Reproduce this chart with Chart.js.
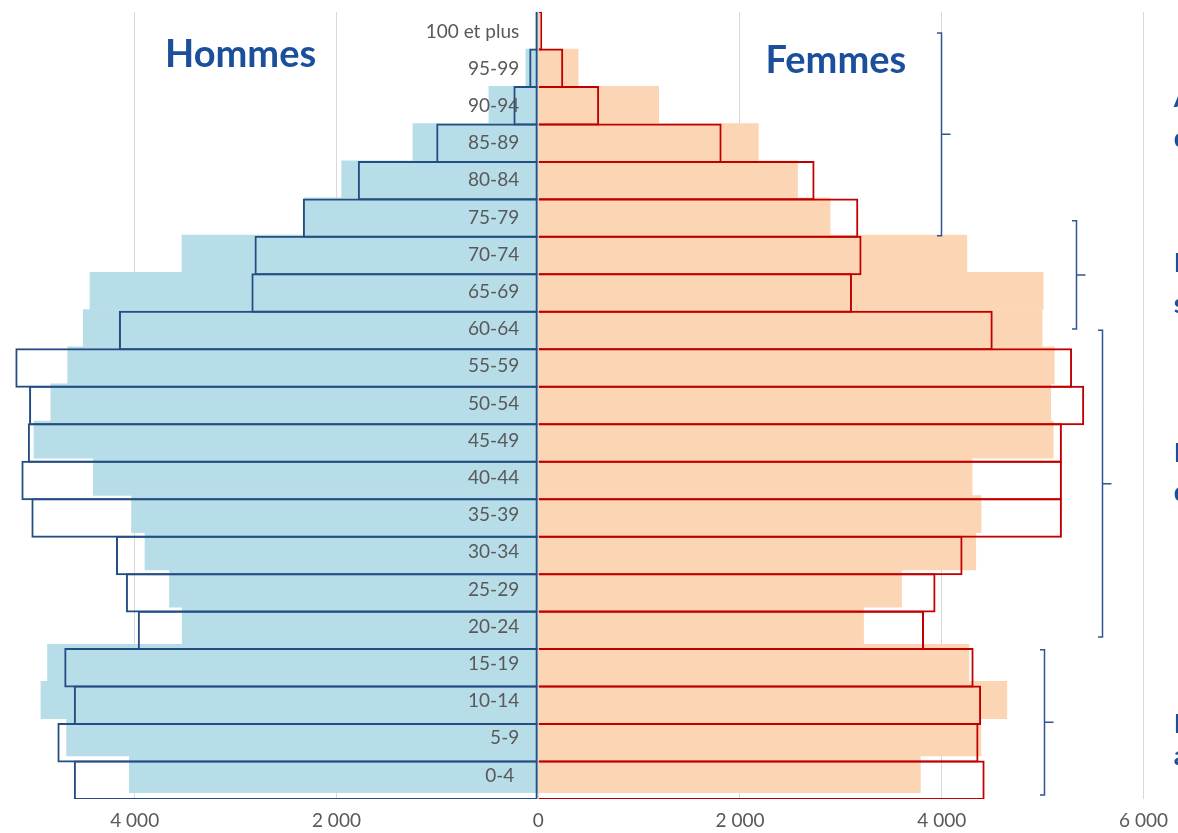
<!DOCTYPE html>
<html lang="fr">
<head>
<meta charset="utf-8">
<title>Pyramide des âges</title>
<script src="https://cdn.jsdelivr.net/npm/chart.js@4.4.1/dist/chart.umd.min.js"></script>
<style>
  html, body { margin: 0; padding: 0; background: #ffffff; overflow: hidden; }
  #wrap { width: 1178px; height: 833px; position: relative; }
  canvas { display: block; }
</style>
</head>
<body>
<div id="wrap"><canvas id="c" width="1178" height="833"></canvas></div>
<script>
// Age groups, bottom to top
const ages = ['0-4 ', '5-9', '10-14', '15-19', '20-24', '25-29', '30-34', '35-39', '40-44', '45-49',
              '50-54', '55-59', '60-64', '65-69', '70-74', '75-79', '80-84', '85-89', '90-94', '95-99', '100 et plus'];

// Filled bars (light colours)
const hommesFill = [4053, 4675, 4929, 4864, 3529, 3655, 3898, 4031, 4409, 4998,
                    4831, 4664, 4510, 4443, 3531, 2320, 1948, 1242, 489, 122, 15];
const femmesFill = [3788, 4388, 4645, 4269, 3225, 3601, 4337, 4390, 4301, 5105,
                    5080, 5115, 4995, 5005, 4249, 2893, 2570, 2181, 1194, 396, 25];

// Outlined bars
const hommesOutline = [4603, 4766, 4603, 4698, 3969, 4087, 4185, 5024, 5123, 5059,
                       5047, 5183, 4156, 2843, 2812, 2333, 1788, 1011, 246, 89, 28];
const femmesOutline = [4425, 4364, 4390, 4316, 3824, 3938, 4206, 5191, 5191, 5191,
                       5412, 5292, 4505, 3110, 3205, 3173, 2739, 1818, 604, 248, 40];

// X axis ticks shown
const xTicks = [-4000, -2000, 0, 2000, 4000, 6000];

// Side titles
const titles = [
  { text: 'Hommes', x: -2950, y: 19.03 },
  { text: 'Femmes', x: 2950, y: 18.87 }
];

// Brackets and their (cut-off) captions on the right
const brackets = [
  { x: 3991, top: 19.94, bottom: 14.53, lines: ['Aînés', "d'avant-guerre"], textY: [17.97, 16.90] },
  { x: 5326, top: 14.93, bottom: 12.04, lines: ['Baby-boomers', 'seniors'], textY: [13.56, 12.47] },
  { x: 5584, top: 12.01, bottom: 3.82, lines: ['Les actifs', "d'âge mûr"], textY: [8.49, 7.45] },
  { x: 5015, top: 3.48, bottom: -0.39, lines: ['Enfants et', 'adolescents'], textY: [1.26, 0.41] }
];
const captionX = 6300;

const BLUE_TXT = '#1B4F9C';
const GREY = '#595959';

const shiftPlugin = {
  id: 'shiftFilledAxis',
  afterLayout(chart) {
    const s = chart.scales.y2;
    s.top = chart.chartArea.top;
    s.bottom = chart.chartArea.bottom - 6;
    s.height = s.bottom - s.top;
    s.configure();
  }
};

const labelsPlugin = {
  id: 'ageLabels',
  afterDatasetsDraw(chart) {
    const ctx = chart.ctx;
    const xs = chart.scales.x, ys = chart.scales.y, y2 = chart.scales.y2;
    ctx.save();
    // age labels
    ctx.font = '19px Lato, "Open Sans", sans-serif';
    ctx.fillStyle = GREY;
    ctx.textAlign = 'right';
    ctx.textBaseline = 'middle';
    const x0 = xs.getPixelForValue(0) - 19;
    ages.forEach((a, i) => ctx.fillText(a, x0, y2.getPixelForValue(i) + 1));
    // titles
    ctx.font = 'bold 38px Lato, "Open Sans", sans-serif';
    ctx.fillStyle = BLUE_TXT;
    ctx.textAlign = 'center';
    ctx.textBaseline = 'alphabetic';
    titles.forEach(t => ctx.fillText(t.text, xs.getPixelForValue(t.x), ys.getPixelForValue(t.y)));
    // brackets
    ctx.strokeStyle = '#2F5597';
    ctx.lineWidth = 1.5;
    brackets.forEach(b => {
      const bx = Math.round(xs.getPixelForValue(b.x)) + 0.5;
      const yt = ys.getPixelForValue(b.top);
      const yb = ys.getPixelForValue(b.bottom);
      const ym = (yt + yb) / 2;
      ctx.beginPath();
      ctx.moveTo(bx - 4.5, yt);
      ctx.lineTo(bx, yt);
      ctx.lineTo(bx, yb);
      ctx.lineTo(bx - 4.5, yb);
      ctx.moveTo(bx, ym);
      ctx.lineTo(bx + 9, ym);
      ctx.stroke();
    });
    // captions
    ctx.font = 'bold 27px Lato, "Open Sans", sans-serif';
    ctx.fillStyle = BLUE_TXT;
    ctx.textAlign = 'left';
    ctx.textBaseline = 'alphabetic';
    brackets.forEach(b => {
      b.lines.forEach((ln, k) => ctx.fillText(ln, xs.getPixelForValue(captionX), ys.getPixelForValue(b.textY[k])));
    });
    ctx.restore();
  }
};

const fmt = v => Math.abs(v).toString().replace(/\B(?=(\d{3})+(?!\d))/g, ' ');

new Chart(document.getElementById('c'), {
  type: 'bar',
  data: {
    labels: ages,
    datasets: [
      { label: 'Hommes (contour)', data: hommesOutline.map(v => -v), yAxisID: 'y',
        backgroundColor: 'rgba(0,0,0,0)', borderColor: '#244E82', borderWidth: 2,
        borderSkipped: false, barPercentage: 1.053, categoryPercentage: 1, grouped: false,
        inflateAmount: 0, order: 1 },
      { label: 'Femmes (contour)', data: femmesOutline, yAxisID: 'y',
        backgroundColor: 'rgba(0,0,0,0)', borderColor: '#C00000', borderWidth: 2,
        borderSkipped: 'start', barPercentage: 1.053, categoryPercentage: 1, grouped: false,
        inflateAmount: 0, order: 2 },
      { label: 'Hommes', data: hommesFill.map(v => -v), yAxisID: 'y2',
        backgroundColor: '#B7DDE8', borderWidth: 0, barPercentage: 1, categoryPercentage: 1,
        grouped: false, order: 3 },
      { label: 'Femmes', data: femmesFill, yAxisID: 'y2',
        backgroundColor: '#FCD5B5', borderWidth: 0, barPercentage: 1, categoryPercentage: 1,
        grouped: false, order: 4 }
    ]
  },
  options: {
    indexAxis: 'y',
    responsive: false,
    animation: false,
    devicePixelRatio: 1,
    layout: { padding: { top: 12, left: 0, right: 0, bottom: 0 } },
    plugins: { legend: { display: false }, tooltip: { enabled: false }, title: { display: false } },
    events: [],
    scales: {
      x: {
        type: 'linear',
        min: -5335, max: 6340,
        afterBuildTicks: (scale) => { scale.ticks = xTicks.map(v => ({ value: v })); },
        afterFit: (scale) => { scale.height = 34; },
        grid: { color: '#D9D9D9', lineWidth: 1, drawTicks: false },
        border: { display: false },
        ticks: {
          callback: (v) => fmt(v),
          color: GREY,
          font: { family: 'Lato, "Open Sans", sans-serif', size: 19 },
          padding: 10,
          maxRotation: 0
        }
      },
      y: {
        type: 'category', reverse: true, display: false,
        grid: { display: false }
      },
      y2: {
        type: 'category', reverse: true, display: false,
        grid: { display: false }
      }
    }
  },
  plugins: [shiftPlugin, labelsPlugin]
});
</script>
</body>
</html>
